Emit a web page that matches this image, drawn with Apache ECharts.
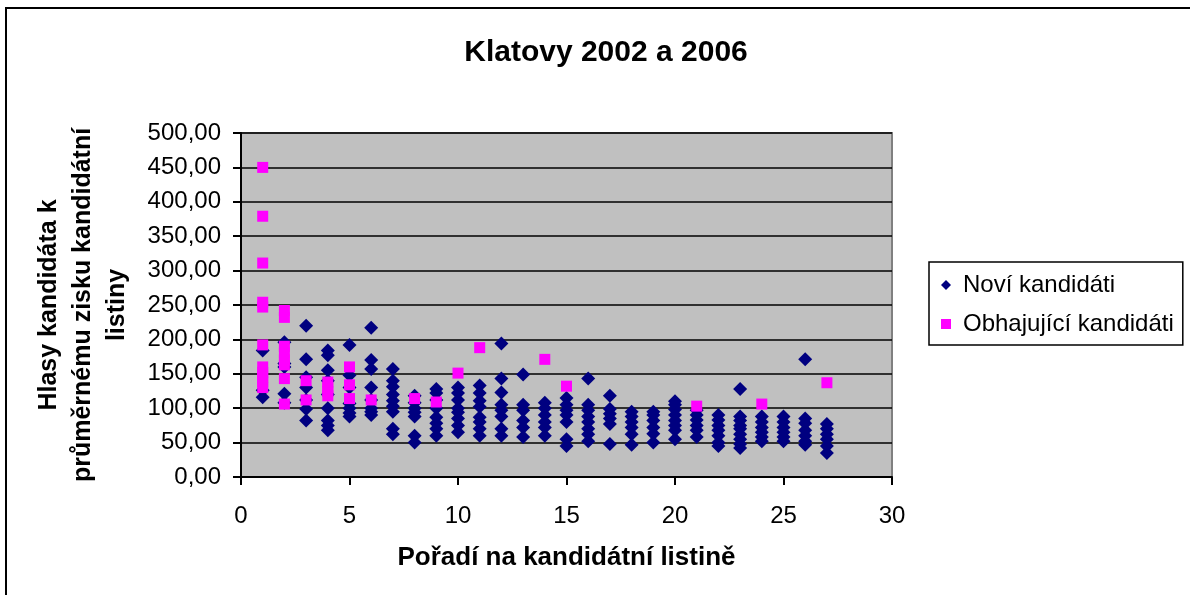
<!DOCTYPE html>
<html>
<head>
<meta charset="utf-8">
<title>Klatovy 2002 a 2006</title>
<script src="https://cdn.jsdelivr.net/npm/echarts@6/dist/echarts.min.js"></script>
<style>
  html, body { margin: 0; padding: 0; background: #fff; }
  #chart { width: 1190px; height: 595px; }
</style>
</head>
<body>
<div id="chart"></div>
<script>
// values per rank on the list (index 0 = rank 1)
const noviKandidati = [
  [184, 126, 116],
  [196, 165, 160, 121, 108],
  [220, 171, 145, 130, 112, 99, 82],
  [184, 177, 155, 140, 120, 100, 82, 75, 68],
  [192, 148, 130, 107, 100, 93, 88],
  [217, 170, 157, 130, 112, 100, 95, 90],
  [157, 140, 131, 120, 111, 103, 95, 70, 62],
  [118, 108, 100, 94, 88, 60, 50],
  [128, 122, 112, 100, 87, 78, 70, 60],
  [130, 122, 112, 100, 94, 85, 75, 65],
  [133, 122, 111, 102, 87, 80, 70, 60],
  [194, 143, 123, 105, 97, 88, 70, 60],
  [149, 105, 97, 82, 72, 58],
  [108, 100, 90, 80, 72, 60],
  [115, 105, 97, 90, 80, 55, 45],
  [143, 105, 97, 88, 80, 70, 62, 52],
  [118, 99, 92, 85, 77, 48],
  [95, 88, 80, 72, 62, 47],
  [95, 90, 82, 72, 63, 50],
  [110, 105, 98, 90, 82, 75, 68, 55],
  [97, 90, 83, 75, 68, 58],
  [90, 83, 75, 68, 60, 50, 45],
  [128, 88, 82, 75, 70, 62, 55, 48, 42],
  [88, 80, 72, 65, 58, 52],
  [88, 80, 72, 65, 58, 52],
  [171, 85, 78, 68, 60, 52, 47],
  [77, 70, 62, 55, 45, 35]
];

const obhajujiciKandidati = [
  [450, 379, 311, 254, 247, 192, 160, 152, 145, 138, 130],
  [242, 232, 190, 180, 170, 163, 143, 106],
  [140, 112],
  [138, 130, 124, 118],
  [160, 134, 114],
  [112],
  [],
  [114],
  [109],
  [151],
  [188],
  [],
  [],
  [171],
  [132],
  [], [], [], [], [],
  [103],
  [], [],
  [106],
  [], [],
  [137]
];

const xTicks = [0, 5, 10, 15, 20, 25, 30];
const yTicks = [0, 50, 100, 150, 200, 250, 300, 350, 400, 450, 500];

const toPoints = (lists) => {
  const pts = [];
  lists.forEach((vals, i) => vals.forEach((v) => pts.push([i + 1, v])));
  return pts;
};

const font = "Arial, 'Liberation Sans', sans-serif";
const chart = echarts.init(document.getElementById("chart"));

chart.setOption({
  animation: false,
  textStyle: { fontFamily: font, color: "#000" },
  title: {
    text: "Klatovy 2002 a 2006",
    left: 601,
    textAlign: "center",
    top: 33,
    textStyle: { fontFamily: font, fontSize: 30, fontWeight: "bold", color: "#000" }
  },
  graphic: [
    {
      type: "rect",
      silent: true,
      shape: { x: 6, y: 8, width: 1240, height: 640 },
      style: { fill: null, stroke: "#000", lineWidth: 2 }
    }
  ],
  legend: {
    orient: "vertical",
    left: 929,
    top: 262,
    padding: [11, 9, 9, 12],
    itemGap: 15,
    itemWidth: 10,
    itemHeight: 10,
    borderColor: "#000",
    borderWidth: 1.5,
    backgroundColor: "#fff",
    textStyle: { fontFamily: font, fontSize: 24, color: "#000", padding: [0, 0, 0, 7] },
    data: ["Noví kandidáti", "Obhajující kandidáti"]
  },
  grid: {
    left: 241,
    right: 298,
    top: 133,
    bottom: 118,
    show: true,
    backgroundColor: "#C0C0C0",
    borderColor: "#808080",
    borderWidth: 2
  },
  xAxis: {
    type: "value",
    min: xTicks[0],
    max: xTicks[xTicks.length - 1],
    interval: 5,
    name: "Pořadí na kandidátní listině",
    nameLocation: "middle",
    nameGap: 68,
    nameTextStyle: { fontFamily: font, fontSize: 26, fontWeight: "bold", color: "#000" },
    axisLine: { lineStyle: { color: "#000", width: 2 } },
    axisTick: { show: true, length: 8, lineStyle: { color: "#000", width: 2 } },
    axisLabel: { fontFamily: font, fontSize: 24, color: "#000", margin: 27 },
    splitLine: { show: false }
  },
  yAxis: {
    type: "value",
    min: yTicks[0],
    max: yTicks[yTicks.length - 1],
    interval: 50,
    name: "Hlasy kandidáta k\nprůměrnému zisku kandidátní\nlistiny",
    nameLocation: "middle",
    nameRotate: 90,
    nameGap: 107,
    nameTextStyle: { fontFamily: font, fontSize: 25, fontWeight: "bold", color: "#000", lineHeight: 34, align: "center" },
    axisLine: { show: true, lineStyle: { color: "#000", width: 2 } },
    axisTick: { show: true, length: 8, lineStyle: { color: "#000", width: 2 } },
    axisLabel: {
      fontFamily: font,
      fontSize: 24,
      color: "#000",
      margin: 20,
      formatter: (v) => v.toFixed(2).replace(".", ",")
    },
    splitLine: { show: true, lineStyle: { color: "#000", width: 1.5 } }
  },
  series: [
    {
      name: "Noví kandidáti",
      type: "scatter",
      symbol: "diamond",
      symbolSize: 14,
      itemStyle: { color: "#000080", opacity: 1 },
      data: toPoints(noviKandidati)
    },
    {
      name: "Obhajující kandidáti",
      type: "scatter",
      symbol: "rect",
      symbolSize: 11,
      itemStyle: { color: "#FF00FF", opacity: 1 },
      data: toPoints(obhajujiciKandidati)
    }
  ]
});
</script>
</body>
</html>
